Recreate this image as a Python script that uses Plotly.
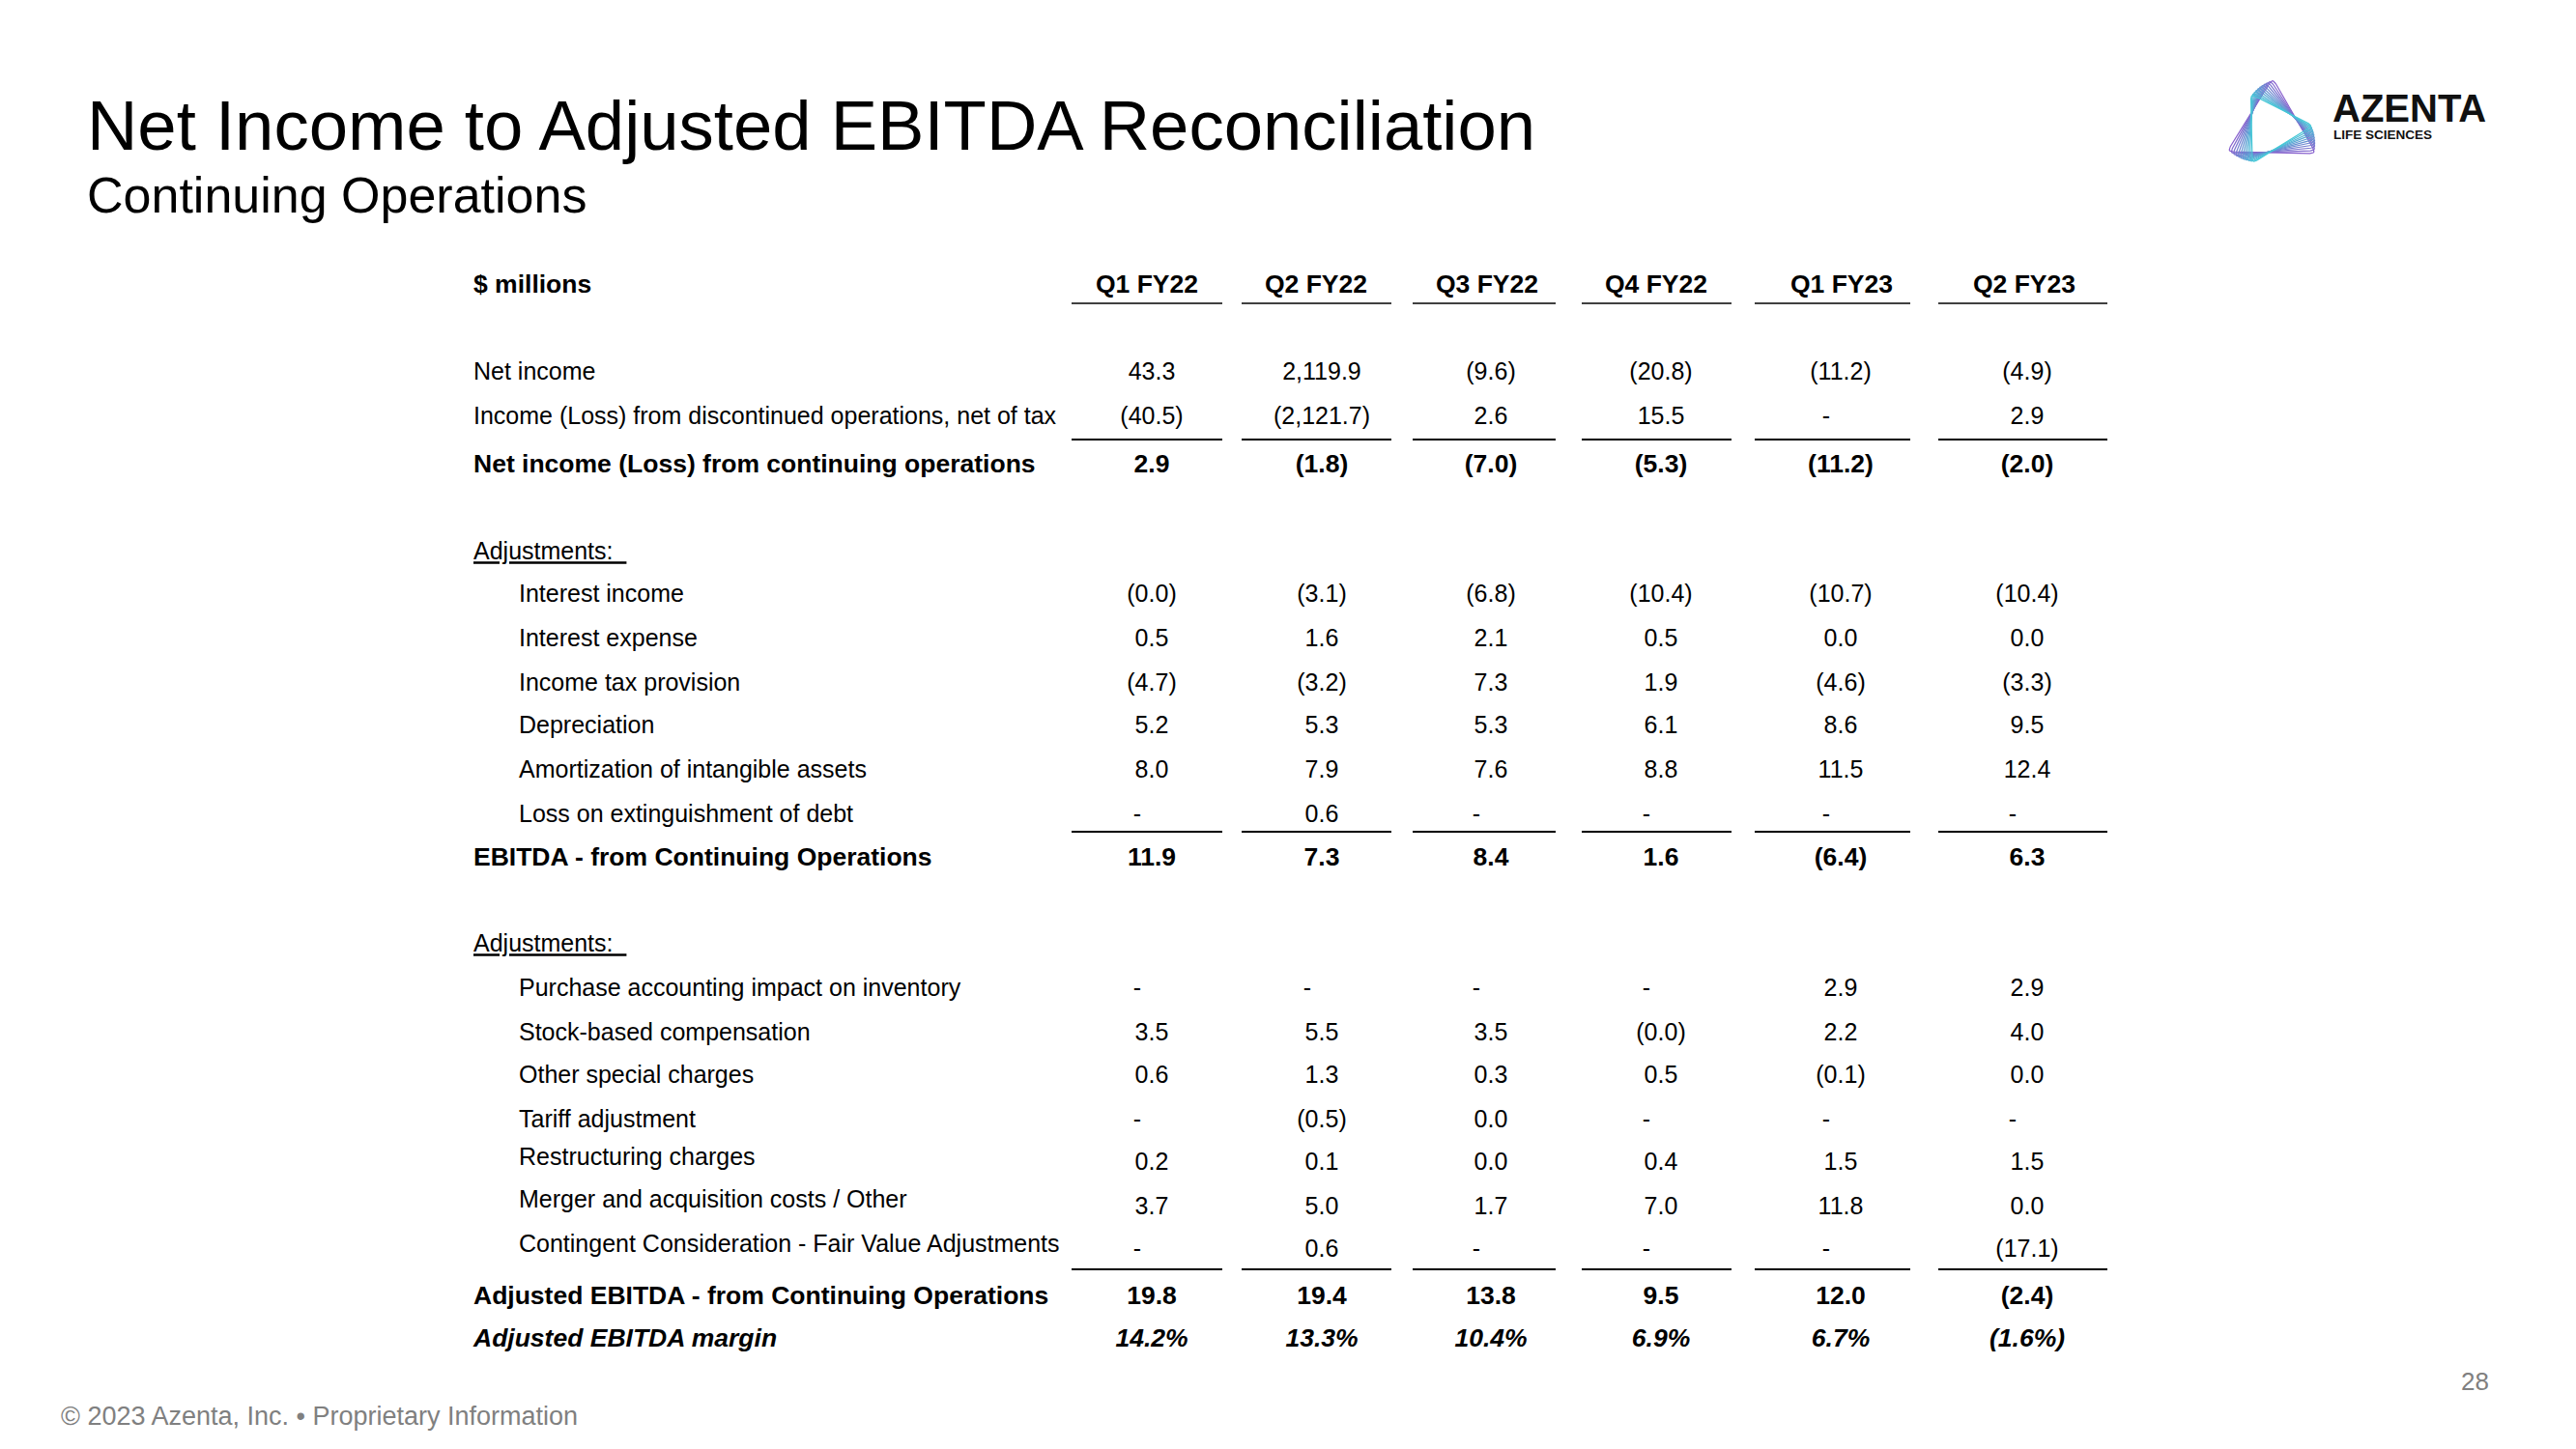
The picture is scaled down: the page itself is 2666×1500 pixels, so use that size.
import math
import numpy as np
import plotly.graph_objects as go

W, H = 2666, 1500

# ---------------- data ----------------
columns = ["Q1 FY22", "Q2 FY22", "Q3 FY22", "Q4 FY22", "Q1 FY23", "Q2 FY23"]
unit_label = "$ millions"

net_income = [43.3, 2119.9, -9.6, -20.8, -11.2, -4.9]
disc_ops = [-40.5, -2121.7, 2.6, 15.5, None, 2.9]
net_income_cont = [2.9, -1.8, -7.0, -5.3, -11.2, -2.0]

interest_income = [-0.0, -3.1, -6.8, -10.4, -10.7, -10.4]
interest_expense = [0.5, 1.6, 2.1, 0.5, 0.0, 0.0]
income_tax = [-4.7, -3.2, 7.3, 1.9, -4.6, -3.3]
depreciation = [5.2, 5.3, 5.3, 6.1, 8.6, 9.5]
amortization = [8.0, 7.9, 7.6, 8.8, 11.5, 12.4]
loss_extinguish = [None, 0.6, None, None, None, None]
ebitda = [11.9, 7.3, 8.4, 1.6, -6.4, 6.3]

purchase_acct = [None, None, None, None, 2.9, 2.9]
stock_comp = [3.5, 5.5, 3.5, -0.0, 2.2, 4.0]
other_special = [0.6, 1.3, 0.3, 0.5, -0.1, 0.0]
tariff_adj = [None, -0.5, 0.0, None, None, None]
restructuring = [0.2, 0.1, 0.0, 0.4, 1.5, 1.5]
merger_costs = [3.7, 5.0, 1.7, 7.0, 11.8, 0.0]
contingent = [None, 0.6, None, None, None, -17.1]
adj_ebitda = [19.8, 19.4, 13.8, 9.5, 12.0, -2.4]
adj_ebitda_margin = [14.2, 13.3, 10.4, 6.9, 6.7, -1.6]

# (label, values, style, indent, is_pct)
rows = [
    ("Net income", net_income, "normal", False, False),
    ("Income (Loss) from discontinued operations, net of tax", disc_ops, "normal", False, False),
    ("Net income (Loss) from continuing operations", net_income_cont, "bold", False, False),
    ("Adjustments:", None, "under", False, False),
    ("Interest income", interest_income, "normal", True, False),
    ("Interest expense", interest_expense, "normal", True, False),
    ("Income tax provision", income_tax, "normal", True, False),
    ("Depreciation", depreciation, "normal", True, False),
    ("Amortization of intangible assets", amortization, "normal", True, False),
    ("Loss on extinguishment of debt", loss_extinguish, "normal", True, False),
    ("EBITDA - from Continuing Operations", ebitda, "bold", False, False),
    ("Adjustments:", None, "under", False, False),
    ("Purchase accounting impact on inventory", purchase_acct, "normal", True, False),
    ("Stock-based compensation", stock_comp, "normal", True, False),
    ("Other special charges", other_special, "normal", True, False),
    ("Tariff adjustment", tariff_adj, "normal", True, False),
    ("Restructuring charges", restructuring, "normal", True, False),
    ("Merger and acquisition costs / Other", merger_costs, "normal", True, False),
    ("Contingent Consideration - Fair Value Adjustments", contingent, "normal", True, False),
    ("Adjusted EBITDA - from Continuing Operations", adj_ebitda, "bold", False, False),
    ("Adjusted EBITDA margin", adj_ebitda_margin, "bolditalic", False, True),
]

# ---------------- layout constants (page pixels) ----------------
label_y = [387, 433, 482, 573, 617, 663, 709, 753, 799, 845, 889,
           979, 1025, 1071, 1115, 1161, 1200, 1244, 1290, 1343, 1387]
value_y = [387, 433, 482, 573, 617, 663, 709, 753, 799, 845, 889,
           979, 1025, 1071, 1115, 1161, 1205, 1251, 1295, 1343, 1387]
header_y = 296
head_x = [1187, 1362, 1539, 1714, 1906, 2095]
val_x = [1192, 1368, 1543, 1719, 1905, 2098]
dash_shift = -15
label_x0, label_x1 = 490, 537
seg_x = [(1109, 1265), (1285, 1440), (1462, 1610), (1637, 1792), (1816, 1977), (2006, 2181)]
rule_rows = [(314, 1.6), (455, 2), (861, 2), (1314, 2)]
OFF = 8  # page body margin

FONT = "Liberation Sans, Arial, sans-serif"
FS = 25
FSB = 26.5


def fmt(v, pct=False):
    if v is None:
        return "-"
    s = f"{abs(v):,.1f}" + ("%" if pct else "")
    return f"({s})" if math.copysign(1.0, v) < 0 else s


fig = go.Figure()

style_font = {
    "normal": dict(size=FS, weight="normal", style="normal"),
    "under": dict(size=FS, weight="normal", style="normal"),
    "bold": dict(size=FSB, weight="bold", style="normal"),
    "bolditalic": dict(size=FSB, weight="bold", style="italic"),
}

# header row
fig.add_trace(go.Scatter(
    x=[label_x0] + head_x, y=[header_y] * 7,
    text=[unit_label] + columns, mode="text",
    textposition=["middle right"] + ["middle center"] * 6,
    textfont=dict(family=FONT, size=FSB, color="#000", weight="bold"),
    hoverinfo="skip", showlegend=False))

# labels
for (label, vals, style, indent, pct), ly in zip(rows, label_y):
    txt = f"<u>{label}\u00a0\u00a0</u>" if style == "under" else label
    f = style_font[style]
    fig.add_trace(go.Scatter(
        x=[label_x1 if indent else label_x0], y=[ly], text=[txt], mode="text",
        textposition="middle right",
        textfont=dict(family=FONT, color="#000", **f),
        hoverinfo="skip", showlegend=False))

# values
for (label, vals, style, indent, pct), vy in zip(rows, value_y):
    if vals is None:
        continue
    xs = [cx + (dash_shift if v is None else 0) for cx, v in zip(val_x, vals)]
    f = style_font[style]
    fig.add_trace(go.Scatter(
        x=xs, y=[vy] * len(vals), text=[fmt(v, pct) for v in vals], mode="text",
        textposition="middle center",
        textfont=dict(family=FONT, color="#000", **f),
        hoverinfo="skip", showlegend=False))

# rules under columns
shapes = []
for ry, lw in rule_rows:
    for x0, x1 in seg_x:
        shapes.append(dict(type="line", xref="x", yref="y", x0=x0, x1=x1, y0=ry, y1=ry,
                           line=dict(color="#000", width=lw)))


# ---------------- logo (decorative swirl) ----------------
def round_corners(poly, r=0.07, n=6):
    out = []
    m = len(poly)
    for k in range(m):
        p_prev, p, p_next = poly[k - 1], poly[k], poly[(k + 1) % m]
        a = p + (p_prev - p) * r
        b = p + (p_next - p) * r
        for s in np.linspace(0, 1, n):
            out.append((1 - s) ** 2 * a + 2 * (1 - s) * s * p + s ** 2 * b)
    out.append(out[0])
    return np.array(out)


lcx, lcy = 2351, 132
base = np.array([[1, -51], [-46, 25], [46, 27]], dtype=float)
n_tri = 11
c0 = np.array([135, 95, 205])
c1 = np.array([70, 200, 215])
for i in range(n_tri):
    t = i / (n_tri - 1)
    ang = math.radians(-33 * t)
    sc = 1.0 - 0.2 * t
    R = np.array([[math.cos(ang), -math.sin(ang)], [math.sin(ang), math.cos(ang)]])
    pts = round_corners((base * sc) @ R.T)
    col = c0 + (c1 - c0) * t
    fig.add_trace(go.Scatter(
        x=pts[:, 0] + lcx, y=pts[:, 1] + lcy, mode="lines",
        line=dict(color=f"rgb({int(col[0])},{int(col[1])},{int(col[2])})", width=1.2),
        hoverinfo="skip", showlegend=False))

annotations = [
    dict(x=88, y=129, text="Net Income to Adjusted EBITDA Reconciliation", xanchor="left", yanchor="middle",
         font=dict(family=FONT, size=72.5, color="#000")),
    dict(x=88, y=202, text="Continuing Operations", xanchor="left", yanchor="middle",
         font=dict(family=FONT, size=52, color="#000")),
    dict(x=2412, y=112, text="<b>AZENTA</b>", xanchor="left", yanchor="middle",
         font=dict(family=FONT, size=40, color="#111")),
    dict(x=2413, y=139, text="<b>LIFE SCIENCES</b>", xanchor="left", yanchor="middle",
         font=dict(family=FONT, size=13.5, color="#111")),
    dict(x=61, y=1466, text="© 2023 Azenta, Inc. • Proprietary Information", xanchor="left", yanchor="middle",
         font=dict(family=FONT, size=27, color="#808080")),
    dict(x=2561, y=1430, text="28", xanchor="center", yanchor="middle",
         font=dict(family=FONT, size=26, color="#808080")),
]
for a in annotations:
    a.update(xref="x", yref="y", showarrow=False)

fig.update_layout(
    width=W, height=H,
    margin=dict(l=0, r=0, t=0, b=0),
    paper_bgcolor="white", plot_bgcolor="white",
    xaxis=dict(range=[OFF, W + OFF], visible=False, fixedrange=True),
    yaxis=dict(range=[H + OFF, OFF], visible=False, fixedrange=True),
    shapes=shapes, annotations=annotations,
    showlegend=False,
)

fig.write_html("out.html")
